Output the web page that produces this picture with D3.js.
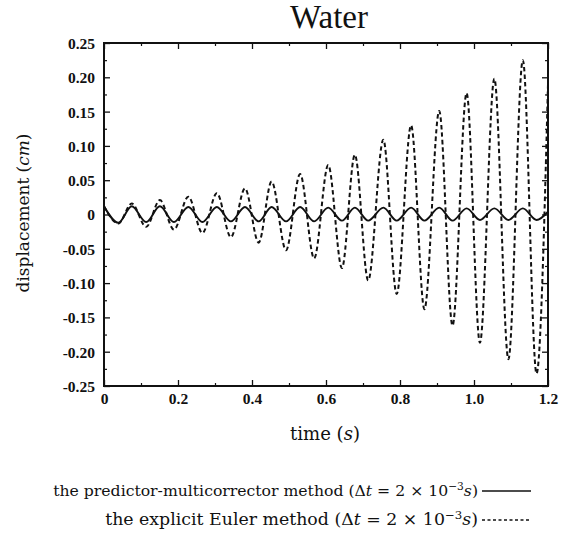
<!DOCTYPE html>
<html><head><meta charset="utf-8">
<script src="https://cdn.jsdelivr.net/npm/d3@7"></script>
<style>body{margin:0;background:#fff}svg{display:block}text{font-family:"Liberation Serif","DejaVu Serif",serif;fill:#111}.wide{font-family:"DejaVu Serif","Liberation Serif",serif}</style>
</head><body><svg id="c" width="571" height="540"></svg>
<script>
// time (s) of each turning point of both curves
const times = [0,0.039,0.075,0.114,0.151,0.189,0.228,0.266,0.305,0.343,0.381,0.418,0.453,0.492,0.530,0.568,0.606,0.643,0.678,0.714,0.755,0.791,0.830,0.866,0.906,0.942,0.980,1.016,1.055,1.093,1.132,1.169,1.2];
// predictor-multicorrector (solid)
const pmValues = [0.012,-0.012,0.012,-0.011,0.012,-0.011,0.011,-0.011,0.011,-0.010,0.011,-0.010,0.011,-0.010,0.011,-0.010,0.010,-0.009,0.010,-0.009,0.010,-0.009,0.010,-0.009,0.010,-0.009,0.009,-0.008,0.009,-0.008,0.009,-0.008,0.004];
// explicit Euler (dashed)
const eulerValues = [0.012,-0.013,0.016,-0.018,0.021,-0.022,0.026,-0.027,0.031,-0.033,0.038,-0.041,0.048,-0.052,0.059,-0.064,0.072,-0.078,0.087,-0.096,0.109,-0.116,0.130,-0.138,0.151,-0.162,0.177,-0.187,0.198,-0.211,0.225,-0.232,0.19];
const xTicks = [0,0.2,0.4,0.6,0.8,1.0,1.2];
const xTickLabels = ["0","0.2","0.4","0.6","0.8","1.0","1.2"];
const xMinor = [0.1,0.3,0.5,0.7,0.9,1.1];
const yTicks = [0.25,0.20,0.15,0.10,0.05,0,-0.05,-0.10,-0.15,-0.20,-0.25];
const yTickLabels = ["0.25","0.20","0.15","0.10","0.05","0","-0.05","-0.10","-0.15","-0.20","-0.25"];
const yMinor = [0.225,0.175,0.125,0.075,0.025,-0.025,-0.075,-0.125,-0.175,-0.225];

const svg = d3.select("#c");
const L=104, R=548, T=43, B=386;
const x = d3.scaleLinear().domain([0,1.2]).range([L,R]);
const y = d3.scaleLinear().domain([-0.25,0.25]).range([B,T]);

function fit(sel, width){
  const fs = parseFloat(sel.attr("font-size"));
  const w = sel.node().getComputedTextLength();
  sel.attr("font-size", (fs*width/w).toFixed(2));
  return sel;
}

const g = svg.append("g");
function ax(axis, tr, major, minor, labels){
  const a = g.append("g").attr("transform",tr);
  a.call(axis.tickValues(major).tickSizeInner(-6).tickSizeOuter(0).tickFormat((d,i)=>labels?labels[i]:""));
  a.select(".domain").remove();
  a.selectAll(".tick line").attr("stroke","#111").attr("stroke-width",1.3);
  const b = g.append("g").attr("transform",tr);
  b.call(axis.tickValues(minor).tickSizeInner(-3).tickSizeOuter(0).tickFormat(""));
  b.select(".domain").remove();
  b.selectAll(".tick line").attr("stroke","#111").attr("stroke-width",1.2);
  return a;
}
const xb = ax(d3.axisBottom(x), `translate(0,${B})`, xTicks, xMinor, xTickLabels);
xb.selectAll("text").attr("font-size",15.5).attr("font-weight","bold").attr("dy","0.95em").attr("fill","#111");
ax(d3.axisTop(x), `translate(0,${T})`, xTicks, xMinor, null);
const yl = ax(d3.axisLeft(y), `translate(${L},0)`, yTicks, yMinor, yTickLabels);
yl.selectAll("text").attr("font-size",15.5).attr("font-weight","bold").attr("x",-9).attr("fill","#111");
yl.selectAll(".tick text").attr("dy","0.35em");
ax(d3.axisRight(y), `translate(${R},0)`, yTicks, yMinor, null);
g.selectAll(".tick text").style("font-family",'"Liberation Serif",serif');

g.append("rect").attr("x",L).attr("y",T).attr("width",R-L).attr("height",B-T)
  .attr("fill","none").attr("stroke","#111").attr("stroke-width",2);

svg.append("clipPath").attr("id","pc").append("rect").attr("x",L).attr("y",T-2).attr("width",R-L+1).attr("height",B-T+4);
const line = d3.line().x((d,i)=>x(times[i])).y(d=>y(d)).curve(d3.curveMonotoneX);
svg.append("path").datum(eulerValues).attr("d",line).attr("fill","none").attr("stroke","#111")
  .attr("stroke-width",2).attr("stroke-dasharray","4.5,3").attr("clip-path","url(#pc)");
svg.append("path").datum(pmValues).attr("d",line).attr("fill","none").attr("stroke","#111")
  .attr("stroke-width",1.9).attr("clip-path","url(#pc)");

// title & labels
fit(svg.append("text").attr("x",329).attr("y",28).attr("text-anchor","middle").attr("font-size",25).text("Water"), 78);
const xt = svg.append("text").attr("class","wide").attr("x",325).attr("y",440).attr("text-anchor","middle").attr("font-size",15);
xt.append("tspan").text("time (");
xt.append("tspan").attr("font-style","italic").text("s");
xt.append("tspan").text(")");
fit(xt, 70);
const ytl = svg.append("text").attr("class","wide").attr("transform","translate(29,213) rotate(-90)").attr("text-anchor","middle").attr("font-size",15);
ytl.append("tspan").text("displacement (");
ytl.append("tspan").attr("font-style","italic").text("cm");
ytl.append("tspan").text(")");
fit(ytl, 159);

// legend
const legendNames = ["the predictor-multicorrector method","the explicit Euler method"];
const legendY = [496, 525];
const legendW = [425, 373];
const legendDash = [null, "3,2.5"];
legendNames.forEach((nm,i)=>{
  const t = svg.append("text").attr("class","wide").attr("x",478).attr("y",legendY[i]).attr("text-anchor","end").attr("font-size",13);
  t.append("tspan").text(nm+" (");
  t.append("tspan").text("Δ");
  t.append("tspan").attr("font-style","italic").text("t");
  t.append("tspan").text(" = 2 × 10");
  t.append("tspan").attr("font-size","0.68em").attr("dy","-0.55em").text("−3");
  t.append("tspan").attr("font-style","italic").attr("dy","0.374em").text("s");
  t.append("tspan").text(")");
  fit(t, legendW[i]);
  svg.append("line").attr("x1",482).attr("x2",531).attr("y1",legendY[i]-5).attr("y2",legendY[i]-5)
    .attr("stroke","#111").attr("stroke-width",1.5).attr("stroke-dasharray",legendDash[i]);
});
</script></body></html>
